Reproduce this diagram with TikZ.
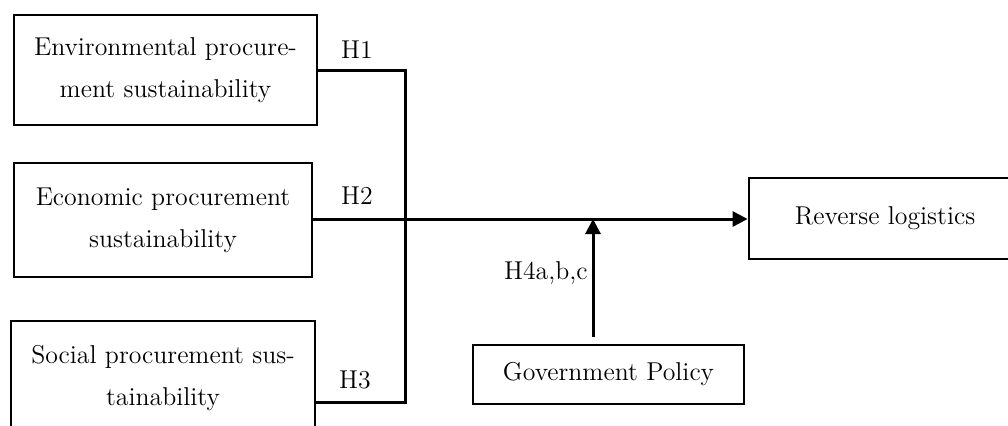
\documentclass[tikz,border=0pt]{standalone}
\usetikzlibrary{arrows.meta,calc}
\begin{document}
\begin{tikzpicture}[x=0.5pt,y=-0.5pt,
  box/.style={draw,line width=1.4pt,inner sep=0pt,align=center,font=\fontsize{12.9}{21}\selectfont},
  conn/.style={line width=1.5pt},
  lab/.style={font=\fontsize{12.9}{15}\selectfont,inner sep=0pt},
  tip/.style={-{Triangle[length=7.5pt,width=7.5pt]}}]
\useasboundingbox (0,0) rectangle (1008,425);
\clip (0,0) rectangle (1008,425);
\node[box,minimum width=151.5pt,minimum height=55pt] (env) at (165.5,70) {Environmental procure-\\ment sustainability};
\node[box,minimum width=149pt,minimum height=57pt] (eco) at (163,220) {Economic procurement\\sustainability};
\node[box,minimum width=152pt,minimum height=57pt] (soc) at (163,378) {Social procurement sus-\\tainability};
\node[box,minimum width=136pt,minimum height=40.5pt] (rev) at (885,218.5) {Reverse logistics};
\node[box,minimum width=135.5pt,minimum height=29.5pt] (gov) at (608.5,374.5) {Government Policy};
\coordinate (c1) at (405,70);
\coordinate (c3) at (405,402);
\coordinate (g0) at (593,337);
\coordinate (g1) at (593,219);
\draw[conn] (env.east |- c1) -- (c1) -- (c3) -- (soc.east |- c3);
\draw[conn,tip] (eco.east |- g1) -- (rev.west |- g1);
\draw[conn,tip] (g0) -- (g1);
\node[lab] (h1) at (357,50) {H1};
\node[lab] (h2) at (357,196) {H2};
\node[lab] (h3) at (355,380) {H3};
\node[lab,anchor=east] (h4) at (588,273) {H4a,b,c};
\end{tikzpicture}
\end{document}
